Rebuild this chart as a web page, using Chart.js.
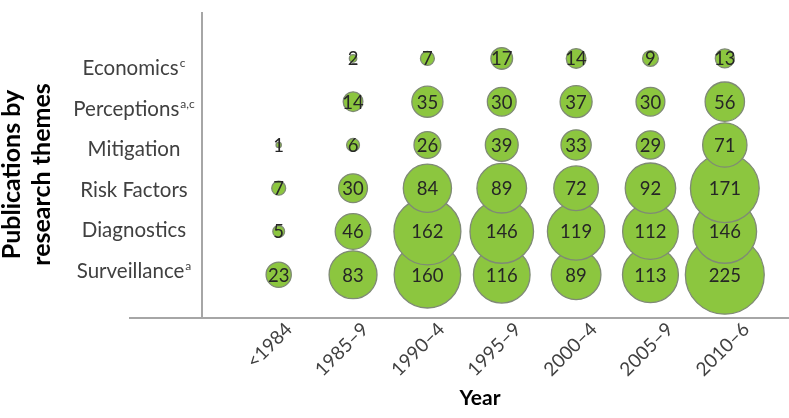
<!DOCTYPE html>
<html><head><meta charset="utf-8">
<script src="https://cdn.jsdelivr.net/npm/chart.js@4"></script>
<style>html,body{margin:0;padding:0;background:#fff}</style>
</head><body>
<canvas id="c" width="789" height="418"></canvas>
<script>
const periods = ['<1984', '1985–9', '1990–4', '1995–9', '2000–4', '2005–9', '2010–6'];
const themes = ['Surveillance', 'Diagnostics', 'Risk Factors', 'Mitigation', 'Perceptions', 'Economics'];
const themeNotes = ['a', '', '', '', 'a,c', 'c'];
const surveillance = [23, 83, 160, 116, 89, 113, 225];
const diagnostics = [5, 46, 162, 146, 119, 112, 146];
const riskFactors = [7, 30, 84, 89, 72, 92, 171];
const mitigation = [1, 6, 26, 39, 33, 29, 71];
const perceptions = [null, 14, 35, 30, 37, 30, 56];
const economics = [null, 2, 7, 17, 14, 9, 13];
const seriesValues = [surveillance, diagnostics, riskFactors, mitigation, perceptions, economics];
const yTitle = ['Publications by', 'research themes'];
const xTitle = 'Year';

const K = 2.63; // radius per sqrt(count): bubble area proportional to count
const FONT = "Lato, 'Open Sans', sans-serif";

const datasets = seriesValues.map((vals, t) => ({
  label: themes[t],
  order: seriesValues.length - 1 - t,
  data: vals.map((v, i) => v == null ? null : {x: i + 1, y: t + 1, r: K * Math.sqrt(v), v: v}).filter(p => p),
  backgroundColor: '#8cc63f',
  borderColor: '#7f8a75',
  borderWidth: 1.3,
  clip: false
}));

const textPlugin = {
  id: 'textPlugin',
  afterDatasetsDraw(chart) {
    const ctx = chart.ctx;
    const area = chart.chartArea;
    ctx.save();
    // counts inside the bubbles
    ctx.font = '18.5px ' + FONT;
    ctx.fillStyle = '#262626';
    ctx.textAlign = 'center';
    ctx.textBaseline = 'middle';
    chart.data.datasets.forEach((ds, di) => {
      chart.getDatasetMeta(di).data.forEach((el, j) => {
        ctx.fillText(String(ds.data[j].v), el.x, el.y + 1);
      });
    });
    // theme labels (with superscript notes) on the label axis
    const yl = chart.scales.yl;
    const cx = area.left + 4;
    ctx.fillStyle = '#404040';
    ctx.textAlign = 'left';
    themes.forEach((name, t) => {
      const y = yl.getPixelForValue(t + 1);
      const note = themeNotes[t];
      ctx.font = '20.5px ' + FONT;
      const wb = ctx.measureText(name).width;
      ctx.font = '12px ' + FONT;
      const ws = note ? ctx.measureText(note).width + 1 : 0;
      const x0 = cx - (wb + ws) / 2;
      ctx.font = '20.5px ' + FONT;
      ctx.fillText(name, x0, y);
      if (note) {
        ctx.font = '12px ' + FONT;
        ctx.fillText(note, x0 + wb + 1, y - 5);
      }
    });
    // axis titles
    ctx.fillStyle = '#000';
    ctx.font = 'bold 25px ' + FONT;
    ctx.textAlign = 'center';
    ctx.textBaseline = 'alphabetic';
    const ty = (area.top + area.bottom) / 2 + 9;
    yTitle.forEach((line, k) => {
      ctx.save();
      ctx.translate(19.5 + k * 30, ty);
      ctx.rotate(-Math.PI / 2);
      ctx.fillText(line, 0, 0);
      ctx.restore();
    });
    ctx.font = 'bold 21px ' + FONT;
    ctx.textBaseline = 'middle';
    ctx.fillText(xTitle, (area.left + area.right) / 2 + 21, 398);
    ctx.restore();
  }
};

const intTicks = (n) => (scale) => { scale.ticks = Array.from({length: n}, (_, i) => ({value: i + 1})); };

new Chart(document.getElementById('c'), {
  type: 'bubble',
  data: {datasets},
  plugins: [textPlugin],
  options: {
    responsive: false,
    animation: false,
    events: [],
    layout: {autoPadding: false, padding: {top: 13, right: 1, left: 130, bottom: 0}},
    plugins: {legend: {display: false}, tooltip: {enabled: false}},
    scales: {
      x: {
        type: 'linear', min: -1, max: 7.85, position: 'bottom', weight: 0,
        ticks: {display: false}, grid: {display: false, drawTicks: false},
        border: {display: true, color: '#a6a6a6', width: 2},
        afterFit: (s) => { s.height = 0; }
      },
      x2: {
        type: 'linear', min: -1.087, max: 7.548, position: 'bottom', weight: 1,
        grid: {display: false, drawTicks: false}, border: {display: false},
        afterBuildTicks: intTicks(periods.length),
        ticks: {
          autoSkip: false, minRotation: 45, maxRotation: 45, padding: 0,
          color: '#404040', font: {family: FONT, size: 19},
          callback: (v) => periods[v - 1] ?? ''
        },
        afterFit: (s) => { s.height = 100; }
      },
      y: {
        type: 'linear', min: 0, max: 7.05, position: {x: -0.03},
        ticks: {display: false}, grid: {display: false, drawTicks: false},
        border: {display: true, color: '#a6a6a6', width: 2}
      },
      yl: {
        type: 'linear', min: -0.16, max: 7.371, position: {x: -1}, display: true,
        ticks: {display: false}, grid: {display: false, drawTicks: false}, border: {display: false}
      }
    }
  }
});
</script>
</body></html>
